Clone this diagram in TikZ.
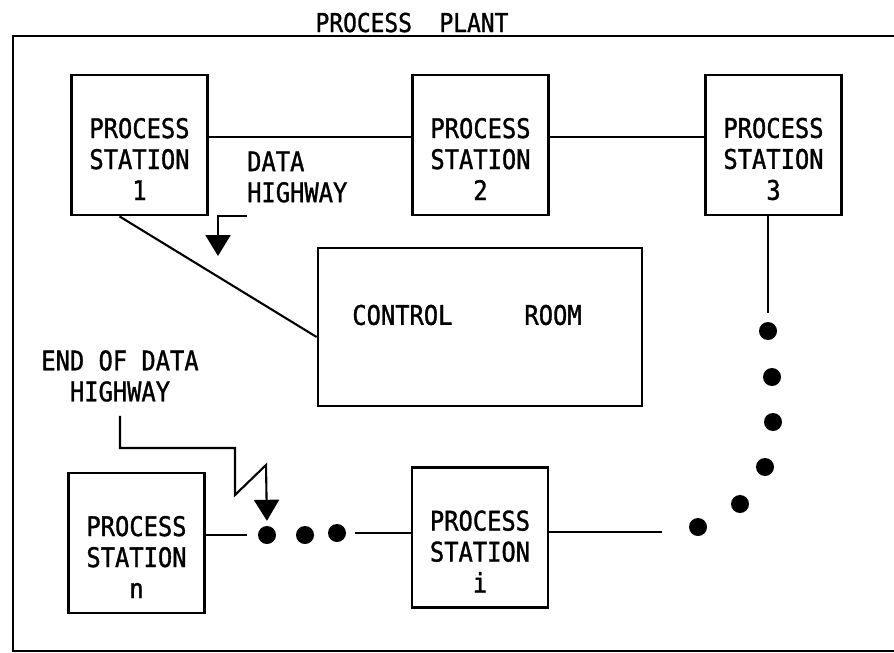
\documentclass[tikz,border=0pt]{standalone}
\usepackage{fontspec}
\newfontfamily\platefont[FakeStretch=0.88, FakeBold=1.2]{DejaVu Sans Mono}
\usetikzlibrary{positioning,arrows.meta}
\tikzset{
  wire/.style={line width=2.1pt},
  pointer/.style={line width=2.1pt, -{Triangle[width=25pt,length=21pt]}},
  stlabel/.style={align=center, font=\platefont\fontsize{27}{31}\selectfont, yshift=-14pt},
  station/.style={draw, line width=2.8pt, minimum width=136pt, minimum height=140pt, inner sep=0pt, label={[stlabel]center:#1}},
  ctrlbox/.style={draw, line width=2.8pt, minimum width=324pt, minimum height=158pt, inner sep=0pt},
  busdot/.style={circle, fill, inner sep=0pt, minimum size=18pt},
  note/.style={inner sep=0pt, font=\platefont\fontsize{27}{31}\selectfont}
}
\begin{document}
\begin{tikzpicture}[x=1pt, y=-1pt]
  \useasboundingbox (0,0) rectangle (894,653);
  % plant boundary (open to the right)
  \draw[line width=2.5pt] (894,36) -- (13,36) -- (13,651) -- (894,651);
  \node[note, anchor=base] (title) at (412,32) {\fontsize{26}{28}\selectfont PROCESS\ \ PLANT};

  % stations and control room
  \node[station={PROCESS\\STATION\\1}] (s1) at (139.5,145) {};
  \node[station={PROCESS\\STATION\\2}] (s2) at (480.5,145) {};
  \node[station={PROCESS\\STATION\\3}] (s3) at (773.5,145) {};
  \node[station={PROCESS\\STATION\\n}] (sn) at (136.5,543) {};
  \node[station={PROCESS\\STATION\\i}] (si) at (480,537.5) {};
  \node[ctrlbox, label={[note, xshift=-13pt, yshift=12pt]center:CONTROL\hspace{72pt}ROOM}] (ctrl) at (480,327) {};

  % data highway
  \draw[wire] ([yshift=8pt]s1.east) -- ([yshift=8pt]s2.west);
  \draw[wire] ([yshift=8pt]s2.east) -- ([yshift=8pt]s3.west);
  \draw[wire] ([xshift=-20pt]s1.south) -- ([yshift=-10pt]ctrl.west);

  \node[busdot] (d1) at (768,331) {};
  \node[busdot] (d2) at (772,377) {};
  \node[busdot] (d3) at (773,422) {};
  \node[busdot] (d4) at (765,467) {};
  \node[busdot] (d5) at (740,504) {};
  \node[busdot] (d6) at (698,527) {};
  \node[busdot] (e1) at (267,535) {};
  \node[busdot] (e2) at (305,535) {};
  \node[busdot] (e3) at (337,533) {};

  \draw[wire, shorten >=9pt] (d1 |- s3.south) -- (d1);
  \draw[wire, shorten <=27pt] ([yshift=-5pt]d6.west) -- ([yshift=-5pt]d6.west -| si.east);
  \draw[wire, shorten <=9pt] (e3) -- (si.west |- e3);
  \draw[wire, shorten >=11pt] (sn.east |- e1) -- (e1);

  % labels with pointers
  \node[note, align=left, anchor=west] (hwylbl) at (247,177) {DATA\\HIGHWAY};
  \coordinate (hwytip) at (218,256);
  \draw[pointer] ([yshift=-13pt]hwylbl.south west) -| (hwytip);

  \node[note, align=center] (endlbl) at (120,376) {END OF DATA\\HIGHWAY};
  \coordinate (endbend) at (235,448);
  \draw[pointer, shorten >=5pt] ([yshift=-14pt]endlbl.south) |- (endbend) -- ++(0,47) -- ++(31,-30) -- (e1.north);
\end{tikzpicture}
\end{document}
